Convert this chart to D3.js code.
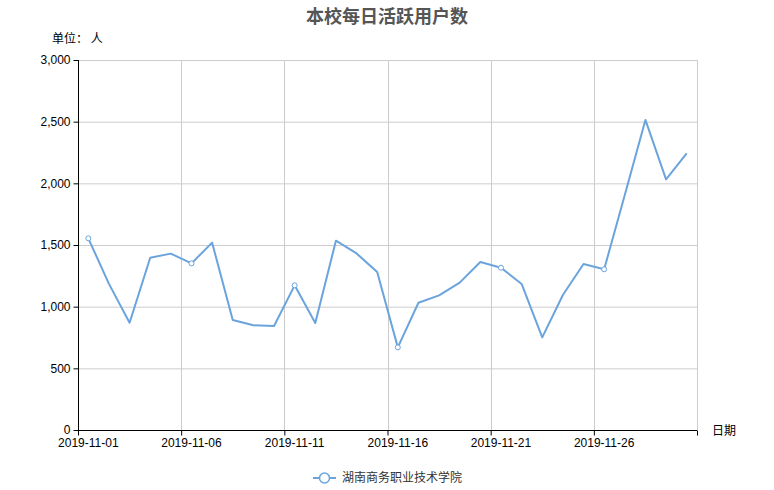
<!DOCTYPE html>
<html><head><meta charset="utf-8">
<script src="https://cdn.jsdelivr.net/npm/d3@7"></script>
<style>
html,body{margin:0;padding:0;background:#fff;}
svg{display:block;font-family:"Liberation Sans","Noto Sans CJK SC",sans-serif;}
</style></head>
<body><svg id="c" width="774" height="490"></svg>
<script>
const title = "本校每日活跃用户数";
const unitLabel = "单位： 人";
const xAxisName = "日期";
const seriesName = "湖南商务职业技术学院";
const dates = ["2019-11-01","2019-11-02","2019-11-03","2019-11-04","2019-11-05","2019-11-06","2019-11-07","2019-11-08","2019-11-09","2019-11-10",
  "2019-11-11","2019-11-12","2019-11-13","2019-11-14","2019-11-15","2019-11-16","2019-11-17","2019-11-18","2019-11-19","2019-11-20",
  "2019-11-21","2019-11-22","2019-11-23","2019-11-24","2019-11-25","2019-11-26","2019-11-27","2019-11-28","2019-11-29","2019-11-30"];
const values = [1554,1185,870,1397,1430,1351,1519,892,849,843,
  1173,867,1535,1432,1281,670,1032,1092,1195,1362,
  1316,1184,751,1095,1346,1303,1905,2514,2032,2243];
const xTickDates = ["2019-11-01","2019-11-06","2019-11-11","2019-11-16","2019-11-21","2019-11-26","2019-12-01"];
const yTicks = [0,500,1000,1500,2000,2500,3000];

const svg = d3.select("#c");
const L = 78, R = 697, T = 60, B = 430;
const parse = d3.timeParse("%Y-%m-%d");
const x = d3.scaleTime().domain([parse("2019-11-01"), parse("2019-12-01")]).range([L, R]);
const y = d3.scaleLinear().domain([0, 3000]).range([B, T]);
const color = "#6ba4dd";
const fmt = d3.format(",");
const tickDates = xTickDates.map(parse);
const mid = d => d3.timeHour.offset(d, 12);

// grid
const g = svg.append("g");
g.selectAll(".hg").data(yTicks.slice(1)).enter().append("line")
  .attr("x1", L).attr("x2", R).attr("y1", d => y(d)+0.5).attr("y2", d => y(d)+0.5)
  .attr("stroke", "#ccc").attr("stroke-width", 1);
g.selectAll(".vg").data(tickDates.slice(1)).enter().append("line")
  .attr("x1", d => Math.round(x(d))+0.5).attr("x2", d => Math.round(x(d))+0.5).attr("y1", T).attr("y2", B)
  .attr("stroke", "#ccc").attr("stroke-width", 1);

// y axis
const ya = svg.append("g").attr("transform", `translate(${L+0.5},0)`)
  .call(d3.axisLeft(y).tickValues(yTicks).tickFormat(fmt).tickSize(5).tickPadding(3));
ya.select(".domain").attr("stroke", "#000").attr("d", `M0,${T}V${B}`);
ya.selectAll("text").attr("font-size", 12).attr("fill", "#000").attr("font-family", "Liberation Sans, sans-serif");

// x axis (ticks at day boundaries, labels centred on the day)
const xa = svg.append("g").attr("transform", `translate(0,${B+0.5})`)
  .call(d3.axisBottom(x).tickValues(tickDates).tickSize(5).tickFormat(""));
xa.select(".domain").attr("stroke", "#000").attr("d", `M${L},0H${R}`);
xa.selectAll("line").attr("stroke", "#000");
svg.append("g").selectAll("text").data(tickDates.slice(0, -1)).enter().append("text")
  .attr("x", d => x(mid(d))).attr("y", B + 17).attr("text-anchor", "middle")
  .attr("font-size", 12).attr("fill", "#000").attr("font-family", "Liberation Sans, sans-serif")
  .text(d3.timeFormat("%Y-%m-%d"));

// line
const pts = dates.map((d, i) => ({t: mid(parse(d)), v: values[i], i}));
svg.append("path").datum(pts)
  .attr("fill", "none").attr("stroke", color).attr("stroke-width", 2).attr("stroke-linejoin", "round")
  .attr("d", d3.line().x(d => x(d.t)).y(d => y(d.v)));
svg.selectAll(".mk").data(pts.filter(d => d.i % 5 === 0)).enter().append("circle")
  .attr("cx", d => x(d.t)).attr("cy", d => y(d.v)).attr("r", 2.5)
  .attr("fill", "#fff").attr("stroke", color).attr("stroke-width", 1);

// title
svg.append("text").attr("x", 387).attr("y", 23).attr("text-anchor", "middle")
  .attr("font-size", 18).attr("font-weight", "bold").attr("fill", "#555")
  .attr("font-family", "Noto Sans CJK SC, sans-serif").text(title);
svg.append("text").attr("x", 52).attr("y", 43).attr("font-size", 12).attr("fill", "#000")
  .attr("font-family", "Noto Sans CJK SC, sans-serif").text(unitLabel);
svg.append("text").attr("x", 712).attr("y", 435).attr("font-size", 12).attr("fill", "#000")
  .attr("font-family", "Noto Sans CJK SC, sans-serif").text(xAxisName);

// legend
const lg = svg.append("g");
lg.append("line").attr("x1", 313).attr("x2", 336).attr("y1", 478).attr("y2", 478)
  .attr("stroke", color).attr("stroke-width", 2);
lg.append("circle").attr("cx", 324.5).attr("cy", 478).attr("r", 5)
  .attr("fill", "#fff").attr("stroke", color).attr("stroke-width", 1.5);
lg.append("text").attr("x", 342).attr("y", 482).attr("font-size", 12).attr("fill", "#333")
  .attr("font-family", "Noto Sans CJK SC, sans-serif").text(seriesName);
</script></body></html>
